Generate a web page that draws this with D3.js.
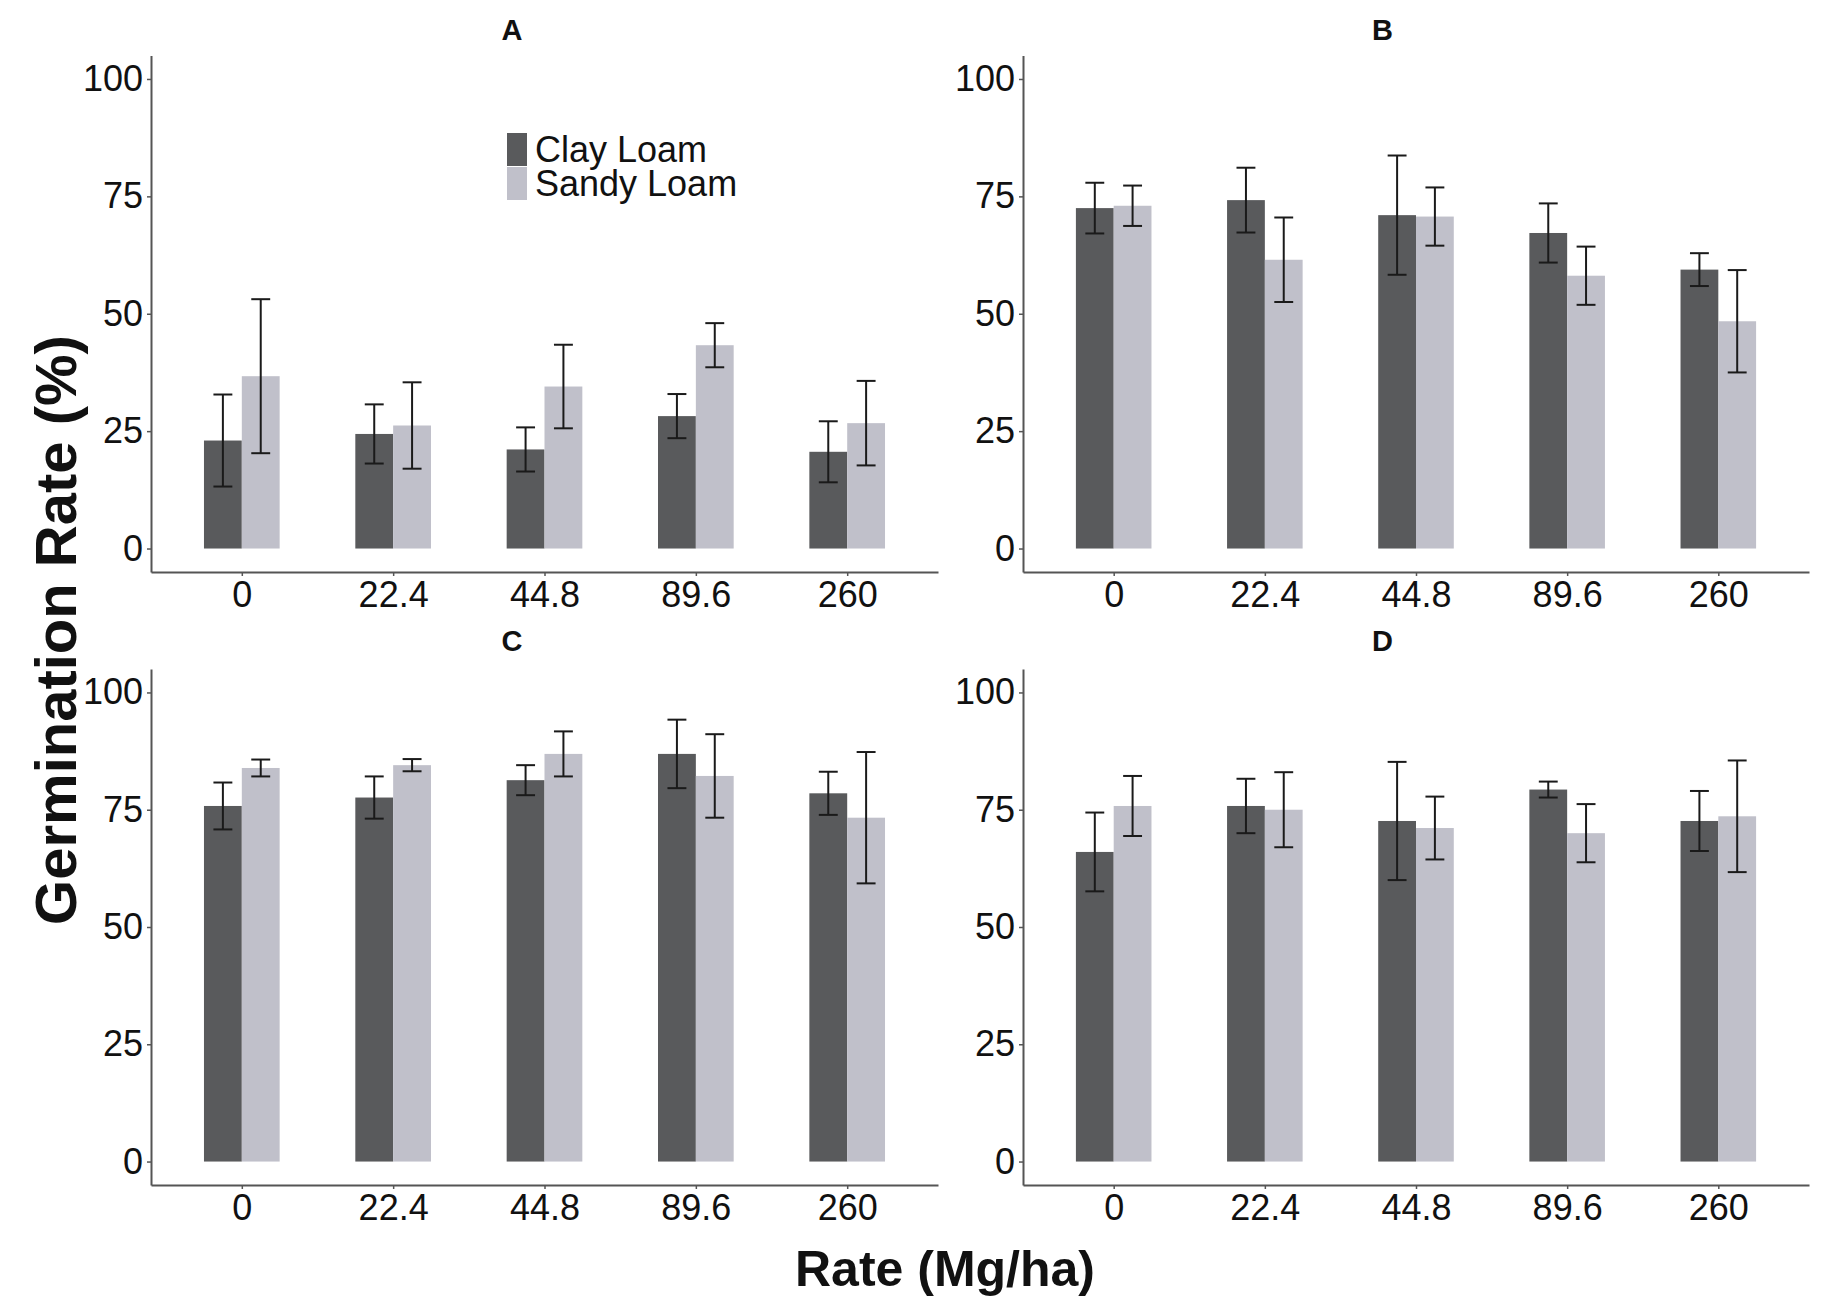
<!DOCTYPE html>
<html>
<head>
<meta charset="utf-8">
<script src="https://cdn.jsdelivr.net/npm/d3@7"></script>
<style>
  html, body { margin: 0; padding: 0; background: #fff; }
  svg { display: block; font-family: "Liberation Sans", Arial, sans-serif; }
</style>
</head>
<body>
<svg id="chart" width="1829" height="1299"></svg>
<script>
// ---- data ----
const rates = ["0", "22.4", "44.8", "89.6", "260"];
const soils = ["Clay Loam", "Sandy Loam"];
const yTicks = [0, 25, 50, 75, 100];
const panelTitles = ["A", "B", "C", "D"];

// means per panel (order follows rates)
const clayA = [23.0, 24.4, 21.1, 28.2, 20.6];
const sandyA = [36.7, 26.2, 34.5, 43.3, 26.7];
const clayErrA = [9.8, 6.3, 4.7, 4.7, 6.5];
const sandyErrA = [16.4, 9.2, 8.9, 4.7, 9.0];

const clayB = [72.5, 74.2, 71.0, 67.2, 59.4];
const sandyB = [73.0, 61.5, 70.7, 58.1, 48.4];
const clayErrB = [5.4, 6.9, 12.7, 6.3, 3.5];
const sandyErrB = [4.3, 9.0, 6.2, 6.2, 10.9];

const clayC = [75.8, 77.6, 81.3, 86.9, 78.5];
const sandyC = [83.9, 84.5, 86.9, 82.2, 73.3];
const clayErrC = [5.0, 4.5, 3.2, 7.3, 4.6];
const sandyErrC = [1.8, 1.3, 4.8, 8.9, 14.0];

const clayD = [66.0, 75.8, 72.6, 79.3, 72.6];
const sandyD = [75.8, 75.0, 71.1, 70.0, 73.6];
const clayErrD = [8.4, 5.8, 12.6, 1.7, 6.4];
const sandyErrD = [6.4, 8.0, 6.7, 6.2, 11.9];

const panelMeans = [[clayA, sandyA], [clayB, sandyB], [clayC, sandyC], [clayD, sandyD]];
const panelErrs = [[clayErrA, sandyErrA], [clayErrB, sandyErrB], [clayErrC, sandyErrC], [clayErrD, sandyErrD]];

// ---- style ----
const colors = d3.scaleOrdinal().domain(soils).range(["#595a5c", "#c0c0ca"]);
const axisColor = "#555";
const tickFont = 36;

// panel layout (plot areas)
const panels = [
  { x0: 151, x1: 938, y0: 55.5, y1: 572, titleX: 512, titleY: 40 },
  { x0: 1023, x1: 1809, y0: 55.5, y1: 572, titleX: 1382.5, titleY: 40 },
  { x0: 151, x1: 938, y0: 669, y1: 1185, titleX: 512, titleY: 651 },
  { x0: 1023, x1: 1809, y0: 669, y1: 1185, titleX: 1382.5, titleY: 651 }
];

const svg = d3.select("#chart");

panels.forEach((p, i) => {
  const g = svg.append("g");
  const x = d3.scalePoint().domain(rates).range([p.x0, p.x1]).padding(0.6);
  const step = x.step();
  const xs = d3.scaleBand().domain(soils).range([-0.25 * step, 0.25 * step]).padding(0);
  const y = d3.scaleLinear().domain([-5, 105]).range([p.y1, p.y0]);

  const rows = [];
  soils.forEach((s, si) => {
    rates.forEach((r, ri) => {
      rows.push({ soil: s, rate: r, v: panelMeans[i][si][ri], e: panelErrs[i][si][ri] });
    });
  });

  // bars
  g.selectAll("rect.bar").data(rows).join("rect")
    .attr("class", "bar")
    .attr("x", d => x(d.rate) + xs(d.soil))
    .attr("width", xs.bandwidth())
    .attr("y", d => y(d.v))
    .attr("height", d => y(0) - y(d.v))
    .attr("fill", d => colors(d.soil));

  // error bars
  const capW = xs.bandwidth() * 0.5;
  const eb = g.selectAll("g.err").data(rows).join("g").attr("class", "err")
    .attr("stroke", "#1a1a1a").attr("stroke-width", 2).attr("fill", "none");
  eb.append("line")
    .attr("x1", d => x(d.rate) + xs(d.soil) + xs.bandwidth() / 2)
    .attr("x2", d => x(d.rate) + xs(d.soil) + xs.bandwidth() / 2)
    .attr("y1", d => y(d.v + d.e))
    .attr("y2", d => y(d.v - d.e));
  eb.append("line")
    .attr("x1", d => x(d.rate) + xs(d.soil) + xs.bandwidth() / 2 - capW / 2)
    .attr("x2", d => x(d.rate) + xs(d.soil) + xs.bandwidth() / 2 + capW / 2)
    .attr("y1", d => y(d.v + d.e)).attr("y2", d => y(d.v + d.e));
  eb.append("line")
    .attr("x1", d => x(d.rate) + xs(d.soil) + xs.bandwidth() / 2 - capW / 2)
    .attr("x2", d => x(d.rate) + xs(d.soil) + xs.bandwidth() / 2 + capW / 2)
    .attr("y1", d => y(d.v - d.e)).attr("y2", d => y(d.v - d.e));

  // axes
  const ya = g.append("g").attr("transform", `translate(${p.x0},0)`)
    .call(d3.axisLeft(y).tickValues(yTicks).tickSize(4).tickSizeOuter(0).tickPadding(4));
  const xa = g.append("g").attr("transform", `translate(0,${p.y1})`)
    .call(d3.axisBottom(x).tickSize(4).tickSizeOuter(0).tickPadding(5));
  [ya, xa].forEach(a => {
    a.select(".domain").attr("stroke", axisColor).attr("stroke-width", 2);
    a.selectAll(".tick line").attr("stroke", axisColor).attr("stroke-width", 1.5);
    a.selectAll(".tick text").attr("fill", "#111")
      .style("font-size", tickFont + "px")
      .style("font-family", "'Liberation Sans', Arial, sans-serif");
  });
  xa.selectAll(".tick text").attr("dy", "0.71em");

  // panel title
  g.append("text").attr("x", p.titleX).attr("y", p.titleY)
    .attr("text-anchor", "middle").attr("font-weight", "bold")
    .attr("font-size", 29).attr("fill", "#111").text(panelTitles[i]);

  // legend in panel A
  if (i === 0) {
    const lg = g.append("g");
    soils.forEach((s, si) => {
      lg.append("rect").attr("x", 507).attr("y", 133 + si * 34)
        .attr("width", 20).attr("height", 33).attr("fill", colors(s));
      lg.append("text").attr("x", 535).attr("y", 133 + si * 34 + 16.5)
        .attr("dy", "0.35em").attr("font-size", 36).attr("fill", "#111").text(s);
    });
  }
});

// shared axis titles
svg.append("text")
  .attr("transform", "translate(76,630) rotate(-90)")
  .attr("text-anchor", "middle").attr("font-weight", "bold")
  .attr("font-size", 58).attr("fill", "#111")
  .text("Germination Rate (%)");

svg.append("text")
  .attr("x", 945).attr("y", 1286)
  .attr("text-anchor", "middle").attr("font-weight", "bold")
  .attr("font-size", 50).attr("fill", "#111")
  .text("Rate (Mg/ha)");
</script>
</body>
</html>
